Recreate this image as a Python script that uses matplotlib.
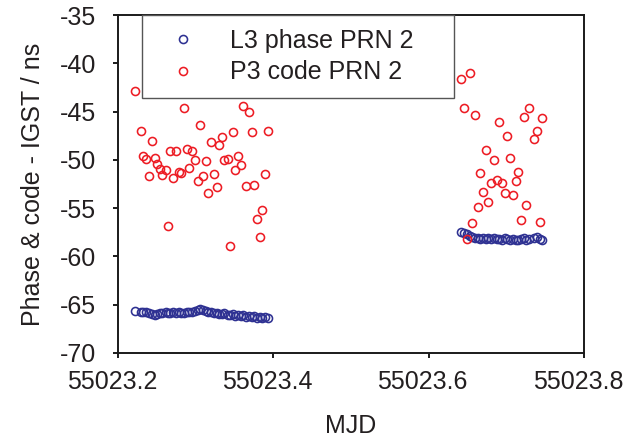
import numpy as np
import matplotlib
matplotlib.use("Agg")
import matplotlib.pyplot as plt
import matplotlib.transforms as mtransforms

plt.rcParams["font.family"] = ["Liberation Sans", "DejaVu Sans"]

# ============================
# Datos (MJD, ns)
# ============================
mjd_izq = [55023.2219, 55023.2296, 55023.2325, 55023.2356, 55023.2399, 55023.2433,
           55023.2472, 55023.2505, 55023.2540, 55023.2570, 55023.2614, 55023.2643,
           55023.2669, 55023.2707, 55023.2746, 55023.2781, 55023.2814, 55023.2849,
           55023.2884, 55023.2917, 55023.2956, 55023.2990, 55023.3025, 55023.3055,
           55023.3097, 55023.3128, 55023.3158, 55023.3192, 55023.3235, 55023.3269,
           55023.3299, 55023.3334, 55023.3367, 55023.3411, 55023.3441, 55023.3475,
           55023.3509, 55023.3543, 55023.3582, 55023.3612, 55023.3642, 55023.3685,
           55023.3720, 55023.3753, 55023.3788, 55023.3823, 55023.3856, 55023.3887,
           55023.3929]

mjd_der = [55023.6421, 55023.6454, 55023.6493, 55023.6527, 55023.6562, 55023.6592,
           55023.6630, 55023.6665, 55023.6698, 55023.6733, 55023.6768, 55023.6797,
           55023.6836, 55023.6875, 55023.6904, 55023.6943, 55023.6978, 55023.7007,
           55023.7042, 55023.7084, 55023.7119, 55023.7149, 55023.7183, 55023.7222,
           55023.7251, 55023.7286, 55023.7360, 55023.7393, 55023.7428, 55023.7462]

fase_izq = [-65.70, -65.75, -65.80, -65.72, -65.85, -65.95, -66.05, -65.95, -65.90, -65.85,
            -65.80, -65.90, -65.85, -65.80, -65.85, -65.80, -65.90, -65.85, -65.80, -65.75,
            -65.80, -65.70, -65.55, -65.40, -65.50, -65.65, -65.75, -65.80, -65.90, -65.85,
            -65.95, -66.00, -65.90, -66.05, -66.10, -66.00, -66.15, -66.05, -66.20, -66.10,
            -66.25, -66.15, -66.30, -66.20, -66.35, -66.25, -66.40, -66.30, -66.35]

fase_der = [-57.45, -57.55, -57.70, -57.85, -57.95, -58.05, -58.10, -58.15, -58.05, -58.20,
            -58.10, -58.15, -58.05, -58.20, -58.15, -58.25, -58.10, -58.20, -58.30, -58.15,
            -58.25, -58.35, -58.20, -58.10, -58.25, -58.15, -58.05, -58.00, -58.20, -58.30]

codigo_izq = [-42.90, -46.98, -49.60, -49.91, -51.70, -48.05, -49.78, -50.43, -50.95, -51.60,
              -51.08, -56.88, -49.05, -51.85, -49.08, -51.29, -51.39, -44.60, -48.91, -50.87,
              -49.11, -50.05, -52.22, -46.36, -51.64, -50.12, -53.40, -48.12, -51.50, -52.84,
              -48.49, -47.60, -50.05, -49.88, -58.92, -47.12, -51.02, -49.63, -50.56, -44.39,
              -52.74, -45.04, -47.08, -52.64, -56.09, -57.96, -55.22, -51.43, -46.98]

codigo_der = [-41.63, -44.63, -58.23, -40.97, -56.51, -45.36, -54.88, -51.33, -53.36, -48.95,
              -54.36, -52.43, -50.02, -52.09, -46.08, -52.37, -53.46, -47.50, -49.78, -53.61,
              -52.16, -51.26, -56.26, -45.56, -54.64, -44.66, -47.81, -46.98, -56.40, -45.70]

x_ticks = [55023.2, 55023.4, 55023.6, 55023.8]
y_ticks = [-35, -40, -45, -50, -55, -60, -65, -70]

azul = "#2E3192"
rojo = "#ED1C24"
texto = "#231F20"

# ============================
# Grafico
# ============================
fig = plt.figure(figsize=(6.25, 4.44), dpi=100)
ax = fig.add_axes([0.1888, 0.2050, 0.7456, 0.7612])

ax.plot(mjd_izq + mjd_der, fase_izq + fase_der, linestyle="none", marker="o",
        markersize=5.8, markerfacecolor="none", markeredgecolor=azul,
        markeredgewidth=1.15, label="L3 phase PRN 2")
ax.plot(mjd_izq + mjd_der, codigo_izq + codigo_der, linestyle="none", marker="o",
        markersize=5.8, markerfacecolor="none", markeredgecolor=rojo,
        markeredgewidth=1.15, label="P3 code PRN 2")

ax.set_xlim(55023.2, 55023.8)
ax.set_ylim(-70, -35)
ax.set_xticks(x_ticks)
ax.set_xticklabels([f"{v:.1f}" for v in x_ticks])
ax.set_yticks(y_ticks)
ax.set_yticklabels([f"{v:d}" for v in y_ticks])

for s in ax.spines.values():
    s.set_linewidth(1.4)
    s.set_color("#1a1a1a")

ax.tick_params(axis="both", direction="out", length=3.6, width=1.4,
               labelsize=18, colors="#1a1a1a", labelcolor=texto)
ax.tick_params(axis="y", pad=12)
ax.tick_params(axis="x", pad=9)

# etiquetas del eje x un poco desplazadas a la izquierda, como en el original
desplazamiento = mtransforms.ScaledTranslation(-0.06, 0, fig.dpi_scale_trans)
for lbl in ax.get_xticklabels():
    lbl.set_transform(lbl.get_transform() + desplazamiento)

ax.set_xlabel("MJD", fontsize=18, color=texto, labelpad=14)
ax.set_ylabel("Phase & code - IGST / ns", fontsize=18, color=texto, labelpad=11)

leg = ax.legend(loc="upper left", bbox_to_anchor=(0.0515, 0.754, 0.6695, 0.246),
                mode="expand", fontsize=18, frameon=True, fancybox=False,
                framealpha=1, edgecolor="#555555", borderpad=0.55,
                labelspacing=0.3, handlelength=2.2, handletextpad=0.78,
                borderaxespad=0)
leg.get_frame().set_linewidth(1.0)
for t in leg.get_texts():
    t.set_color(texto)

plt.savefig("out.png", dpi=100)
